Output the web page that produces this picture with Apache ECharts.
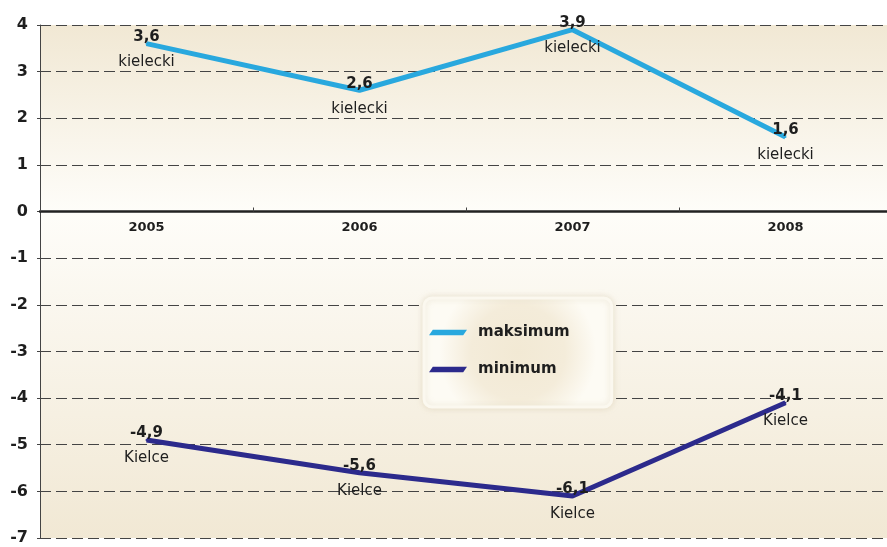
<!DOCTYPE html>
<html>
<head>
<meta charset="utf-8">
<script src="https://cdn.jsdelivr.net/npm/echarts@6/dist/echarts.min.js"></script>
<style>
  html, body { margin: 0; padding: 0; background: #fff; }
  #chart { width: 887px; height: 547px; }
</style>
</head>
<body>
<div id="chart"></div>
<script>
// dane
var lata = ['2005', '2006', '2007', '2008'];
var maksimum = [3.6, 2.6, 3.9, 1.6];
var minimum = [-4.9, -5.6, -6.1, -4.1];
var miejsceMax = ['kielecki', 'kielecki', 'kielecki', 'kielecki'];
var miejsceMin = ['Kielce', 'Kielce', 'Kielce', 'Kielce'];

var FONT = '"DejaVu Sans", "Liberation Sans", Arial, sans-serif';
var CIEMNY = '#1e1e1e';

function fmt(v) {
    return String(v).replace('.', ',');
}

function etykieta(miejsca) {
    return {
        show: true,
        position: 'inside',
        offset: [0, 1],
        formatter: function (p) {
            return '{v|' + fmt(p.value) + '}\n{n|' + miejsca[p.dataIndex] + '}';
        },
        rich: {
            v: { fontFamily: FONT, fontSize: 15, fontWeight: 'bold', color: CIEMNY, lineHeight: 15 },
            n: { fontFamily: FONT, fontSize: 15, fontWeight: 'normal', color: CIEMNY, lineHeight: 15, padding: [20, 0, 0, 0] }
        }
    };
}

// tlo - przejscie od bezu do bieli przy zerze
function tlo(odwrotnie) {
    return new echarts.graphic.LinearGradient(0, odwrotnie ? 1 : 0, 0, odwrotnie ? 0 : 1, [
        { offset: 0, color: '#f1e8d4' },
        { offset: 1, color: '#fefdf9' }
    ]);
}

var siatka = { color: '#444', width: 1.1, type: [11, 5] };
var yLabel = { fontFamily: FONT, fontSize: 16, fontWeight: 'bold', color: CIEMNY, margin: 12 };

var myChart = echarts.init(document.getElementById('chart'));

var option = {
    animation: false,
    textStyle: { fontFamily: FONT },
    grid: [
        { left: 40, right: -5, top: 25, height: 186.5, show: true, borderWidth: 0,
          backgroundColor: tlo(false), outerBoundsMode: 'none', containLabel: false },
        { left: 40, right: -5, top: 211.5, bottom: 9, show: true, borderWidth: 0,
          backgroundColor: tlo(true), outerBoundsMode: 'none', containLabel: false }
    ],
    legend: {
        orient: 'vertical',
        left: 424,
        top: 298,
        padding: [27, 42, 30, 5],
        itemWidth: 38,
        itemHeight: 6,
        itemGap: 22,
        icon: 'path://M4,0 L40,0 L36,6 L0,6 Z',
        textStyle: { fontFamily: FONT, fontSize: 15, fontWeight: 'bold', color: CIEMNY, padding: [0, 0, 0, 6] },
        backgroundColor: new echarts.graphic.RadialGradient(0.5, 0.5, 0.7, [
            { offset: 0, color: '#f2e9d4' },
            { offset: 0.6, color: '#f4ecda' },
            { offset: 1, color: '#fdfbf4' }
        ]),
        borderColor: '#fbf8ef',
        borderWidth: 3,
        borderRadius: 8,
        shadowColor: 'rgba(200,185,150,0.35)',
        shadowBlur: 6,
        data: ['maksimum', 'minimum']
    },
    xAxis: [
        {
            type: 'category',
            gridIndex: 0,
            data: lata,
            position: 'bottom',
            boundaryGap: true,
            axisLine: { onZero: false, lineStyle: { color: '#222', width: 2.5 } },
            axisTick: { show: true, inside: true, length: 4, lineStyle: { color: '#444' } },
            axisLabel: { show: false },
            splitLine: { show: false },
            z: 5
        },
        {
            type: 'category',
            gridIndex: 1,
            data: lata,
            position: 'top',
            boundaryGap: true,
            axisLine: { show: false, onZero: false },
            axisTick: { show: false },
            axisLabel: { inside: true, fontFamily: FONT, fontSize: 13, fontWeight: 'bold', color: CIEMNY, margin: 10 },
            splitLine: { show: false }
        }
    ],
    yAxis: [
        {
            type: 'value',
            gridIndex: 0,
            min: 0,
            max: 4,
            interval: 1,
            axisLine: { show: true, lineStyle: { color: '#444', width: 1 } },
            axisTick: { show: true, length: 3, lineStyle: { color: '#444' } },
            axisLabel: yLabel,
            splitLine: { show: true, lineStyle: siatka }
        },
        {
            type: 'value',
            gridIndex: 1,
            min: -7,
            max: 0,
            interval: 1,
            axisLine: { show: true, lineStyle: { color: '#444', width: 1 } },
            axisTick: { show: true, length: 3, lineStyle: { color: '#444' } },
            axisLabel: Object.assign({ showMaxLabel: false }, yLabel),
            splitLine: { show: true, lineStyle: siatka }
        }
    ],
    series: [
        {
            name: 'maksimum',
            type: 'line',
            xAxisIndex: 0,
            yAxisIndex: 0,
            data: maksimum,
            symbol: 'circle',
            symbolSize: 2,
            color: '#29a8de',
            lineStyle: { width: 5, color: '#29a8de' },
            label: etykieta(miejsceMax),
            z: 3
        },
        {
            name: 'minimum',
            type: 'line',
            xAxisIndex: 1,
            yAxisIndex: 1,
            data: minimum,
            symbol: 'circle',
            symbolSize: 2,
            color: '#2c2a8c',
            lineStyle: { width: 5, color: '#2c2a8c' },
            label: etykieta(miejsceMin),
            z: 3
        }
    ]
};
myChart.setOption(option);
</script>
</body>
</html>
